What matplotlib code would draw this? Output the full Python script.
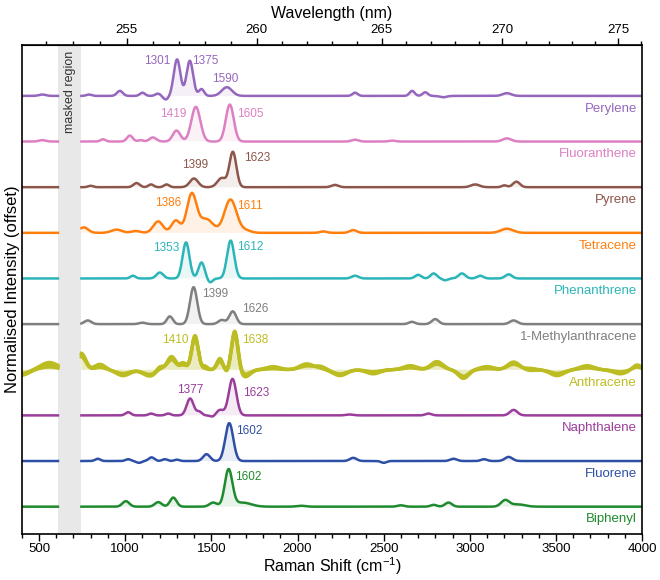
import matplotlib
matplotlib.use('Agg')
import matplotlib.pyplot as plt
import numpy as np

plt.rcParams['font.family'] = ['Liberation Sans', 'DejaVu Sans']
plt.rcParams['mathtext.default'] = 'regular'

LASER_NM = 248.6          # excitation wavelength used for the top axis
MASK = (610, 745)         # masked Raman shift region (cm-1)

# compounds, bottom to top
names = ['Biphenyl', 'Fluorene', 'Naphthalene', 'Anthracene', '1-Methylanthracene',
         'Phenanthrene', 'Tetracene', 'Pyrene', 'Fluoranthene', 'Perylene']
colors = ['#1f8a2e', '#2e4fa6', '#9b3d9b', '#bcbd22', '#7f7f7f',
          '#2bb5b8', '#ff7f0e', '#8c564b', '#dd80c2', '#9467bd']

# peak centres (cm-1), heights (normalised), widths (sigma, cm-1)
biphenyl_c = [1004, 1192, 1279, 1511, 1600, 1680, 2020, 2600, 2790, 2876, 3205, 3280]
biphenyl_h = [0.12, 0.10, 0.20, 0.09, 0.80, 0.09, 0.02, 0.03, 0.04, 0.09, 0.14, 0.05]
biphenyl_w = [20, 20, 19, 22, 22, 50, 25, 20, 18, 20, 24, 40]

fluorene_c = [841, 1017, 1080, 1153, 1230, 1300, 1472, 1604, 2323, 2500, 2905, 3082, 3225]
fluorene_h = [0.05, 0.04, -0.04, 0.08, 0.04, 0.03, 0.15, 0.83, 0.07, -0.04, 0.05, 0.04, 0.09]
fluorene_w = [15, 15, 15, 17, 15, 15, 20, 23, 20, 15, 20, 18, 22]

naphthalene_c = [1017, 1150, 1250, 1377, 1430, 1510, 1550, 1623, 2300, 2760, 3254]
naphthalene_h = [0.07, 0.04, 0.04, 0.37, 0.08, -0.04, 0.12, 0.80, 0.02, 0.04, 0.12]
naphthalene_w = [16, 15, 15, 20, 15, 15, 22, 22, 20, 18, 22]

anthracene_c = [400, 560, 746, 853, 988, 1143, 1201, 1269, 1337, 1405, 1463, 1550, 1589, 1636,
                1695, 1858, 2053, 2131, 2246, 2439, 2654, 2809, 2963, 3099, 3254, 3350, 3506,
                3680, 3873, 3970]
anthracene_w = [40, 50, 25, 30, 40, 40, 20, 25, 20, 19, 15, 18, 15, 19,
                30, 40, 40, 30, 40, 40, 40, 35, 30, 40, 35, 30, 40, 40, 40, 25]
# three repeat acquisitions
anthracene_h1 = [-0.10, 0.16, 0.33, 0.09, -0.11, -0.14, 0.07, 0.26, 0.15, 0.72, 0.04, 0.22, -0.06, 0.82,
                 -0.14, 0.04, 0.11, 0.04, -0.11, -0.07, 0.07, 0.15, -0.17, 0.04, 0.15, 0.00, -0.11,
                 0.07, -0.07, 0.09]
anthracene_h2 = [-0.12, 0.06, 0.28, 0.05, -0.08, -0.12, 0.10, 0.22, 0.10, 0.70, 0.08, 0.18, -0.03, 0.86,
                 -0.10, 0.07, 0.08, 0.07, -0.09, -0.04, 0.04, 0.12, -0.14, 0.07, 0.12, 0.03, -0.08,
                 0.04, -0.04, 0.06]
anthracene_h3 = [-0.08, 0.10, 0.36, 0.12, -0.13, -0.10, 0.04, 0.29, 0.12, 0.75, 0.02, 0.25, -0.08, 0.80,
                 -0.16, 0.02, 0.13, 0.02, -0.13, -0.09, 0.09, 0.18, -0.19, 0.02, 0.17, -0.02, -0.13,
                 0.09, -0.09, 0.11]

methylanth_c = [783, 1100, 1259, 1397, 1560, 1624, 2664, 2799, 3254]
methylanth_h = [0.08, 0.03, 0.17, 0.81, 0.09, 0.28, 0.05, 0.11, 0.08]
methylanth_w = [20, 20, 17, 21, 20, 20, 18, 20, 22]

phenanthrene_c = [1045, 1201, 1353, 1443, 1492, 1612, 2334, 2700, 2790, 2857, 2954, 3060, 3225]
phenanthrene_h = [0.06, 0.13, 0.79, 0.35, -0.09, 0.83, 0.06, 0.08, 0.11, -0.04, 0.11, 0.06, 0.09]
phenanthrene_w = [15, 20, 20, 18, 15, 21, 20, 18, 18, 15, 20, 18, 20]

tetracene_c = [760, 950, 1060, 1191, 1294, 1386, 1470, 1611, 1700, 2150, 2323, 3215]
tetracene_h = [0.12, 0.07, 0.04, 0.25, 0.27, 0.84, 0.30, 0.73, 0.05, 0.03, 0.06, 0.09]
tetracene_w = [25, 30, 25, 28, 25, 28, 40, 35, 30, 20, 20, 35]

pyrene_c = [800, 1066, 1150, 1240, 1399, 1560, 1625, 2217, 3031, 3200, 3270]
pyrene_h = [0.03, 0.09, 0.06, 0.06, 0.19, 0.20, 0.77, 0.05, 0.06, 0.04, 0.12]
pyrene_w = [15, 18, 15, 15, 24, 25, 20, 20, 25, 15, 20]

fluoranthene_c = [520, 871, 1027, 1090, 1161, 1298, 1410, 1607, 2334, 2550, 3215]
fluoranthene_h = [0.03, 0.05, 0.13, 0.03, 0.09, 0.24, 0.76, 0.81, 0.04, 0.02, 0.07]
fluoranthene_w = [20, 15, 17, 15, 20, 22, 26, 23, 20, 20, 25]

perylene_c = [520, 790, 969, 1100, 1190, 1236, 1301, 1375, 1443, 1590, 2334, 2665, 2741, 2845, 3215]
perylene_h = [0.03, 0.03, 0.11, 0.07, 0.05, -0.08, 0.80, 0.77, 0.15, 0.19, 0.07, 0.11, 0.08, -0.03, 0.06]
perylene_w = [20, 15, 17, 15, 15, 15, 19, 19, 15, 30, 15, 15, 15, 20, 25]

peaks = [
    [(biphenyl_c, biphenyl_h, biphenyl_w)],
    [(fluorene_c, fluorene_h, fluorene_w)],
    [(naphthalene_c, naphthalene_h, naphthalene_w)],
    [(anthracene_c, anthracene_h1, anthracene_w),
     (anthracene_c, anthracene_h2, anthracene_w),
     (anthracene_c, anthracene_h3, anthracene_w)],
    [(methylanth_c, methylanth_h, methylanth_w)],
    [(phenanthrene_c, phenanthrene_h, phenanthrene_w)],
    [(tetracene_c, tetracene_h, tetracene_w)],
    [(pyrene_c, pyrene_h, pyrene_w)],
    [(fluoranthene_c, fluoranthene_h, fluoranthene_w)],
    [(perylene_c, perylene_h, perylene_w)],
]

# peak labels: (text, x position, height above baseline)
peak_labels = [
    [('1602', 1713, 0.66)],
    [('1602', 1718, 0.66)],
    [('1377', 1375, 0.55), ('1623', 1759, 0.50)],
    [('1410', 1288, 0.66), ('1638', 1753, 0.66)],
    [('1399', 1520, 0.66), ('1626', 1753, 0.33)],
    [('1353', 1236, 0.66), ('1612', 1724, 0.68)],
    [('1386', 1248, 0.66), ('1611', 1724, 0.59)],
    [('1399', 1404, 0.48), ('1623', 1764, 0.63)],
    [('1419', 1276, 0.61), ('1605', 1724, 0.61)],
    [('1301', 1184, 0.76), ('1375', 1463, 0.76), ('1590', 1579, 0.37)],
]


def spectrum(x, centres, heights, widths):
    y = np.zeros_like(x)
    for c, h, w in zip(centres, heights, widths):
        y += h * np.exp(-0.5 * ((x - c) / w) ** 2)
    return y


def shift_to_nm(s):
    with np.errstate(divide='ignore', invalid='ignore'):
        return 1e7 / (1e7 / LASER_NM - np.asarray(s, dtype=float))


def nm_to_shift(w):
    with np.errstate(divide='ignore', invalid='ignore'):
        return 1e7 / LASER_NM - 1e7 / np.asarray(w, dtype=float)


fig = plt.figure(figsize=(6.6, 5.8), dpi=100)
ax = fig.add_axes([0.033, 0.08, 0.94, 0.842])

x = np.linspace(400, 4000, 1801)
masked = (x > MASK[0]) & (x < MASK[1])

ax.axvspan(MASK[0], MASK[1], color='#e8e8e8', lw=0, zorder=0)
ax.text((MASK[0] + MASK[1]) / 2, 10.0, 'masked region', rotation=90, ha='center', va='top',
        fontsize=9, color='#333333')

for i, (name, col) in enumerate(zip(names, colors)):
    offset = i * 1.0
    lw = 2.4 if name == 'Anthracene' else 1.8
    for c, h, w in peaks[i]:
        y = spectrum(x, c, h, w) + offset
        y[masked] = np.nan
        ax.fill_between(x, offset, y, where=~masked, color=col, alpha=0.1, lw=0, zorder=1)
        ax.plot(x, y, color=col, lw=lw, zorder=2)
    for txt, xt, yt in peak_labels[i]:
        ax.text(xt, offset + yt, txt, color=col, fontsize=8.5, ha='center', va='center', zorder=3)
    ax.text(3970, offset - 0.28, name, color=col, fontsize=9.5, ha='right', va='center', zorder=3)

ax.set_xlim(400, 4000)
ax.set_ylim(-0.59, 10.11)
ax.set_yticks([])
ax.set_xticks(np.arange(500, 4001, 500))
ax.set_xticks(np.arange(400, 4001, 100), minor=True)
ax.tick_params(axis='x', which='major', length=5, width=1, labelsize=9.5, pad=2)
ax.tick_params(axis='x', which='minor', length=3, width=1)
for sp in ax.spines.values():
    sp.set_linewidth(1.2)
ax.set_xlabel('Raman Shift (cm$^{-1}$)', fontsize=11.5, labelpad=0)
ax.set_ylabel('Normalised Intensity (offset)', fontsize=12, labelpad=1)

top = ax.secondary_xaxis('top', functions=(shift_to_nm, nm_to_shift))
top.set_xticks(np.arange(255, 276, 5))
top.set_xticks(np.arange(252, 277, 1), minor=True)
top.tick_params(axis='x', which='major', length=5, width=1, labelsize=9.5, pad=2)
top.tick_params(axis='x', which='minor', length=3, width=1)
top.set_xlabel('Wavelength (nm)', fontsize=11.5, labelpad=4)

fig.savefig('out.png', dpi=100)
